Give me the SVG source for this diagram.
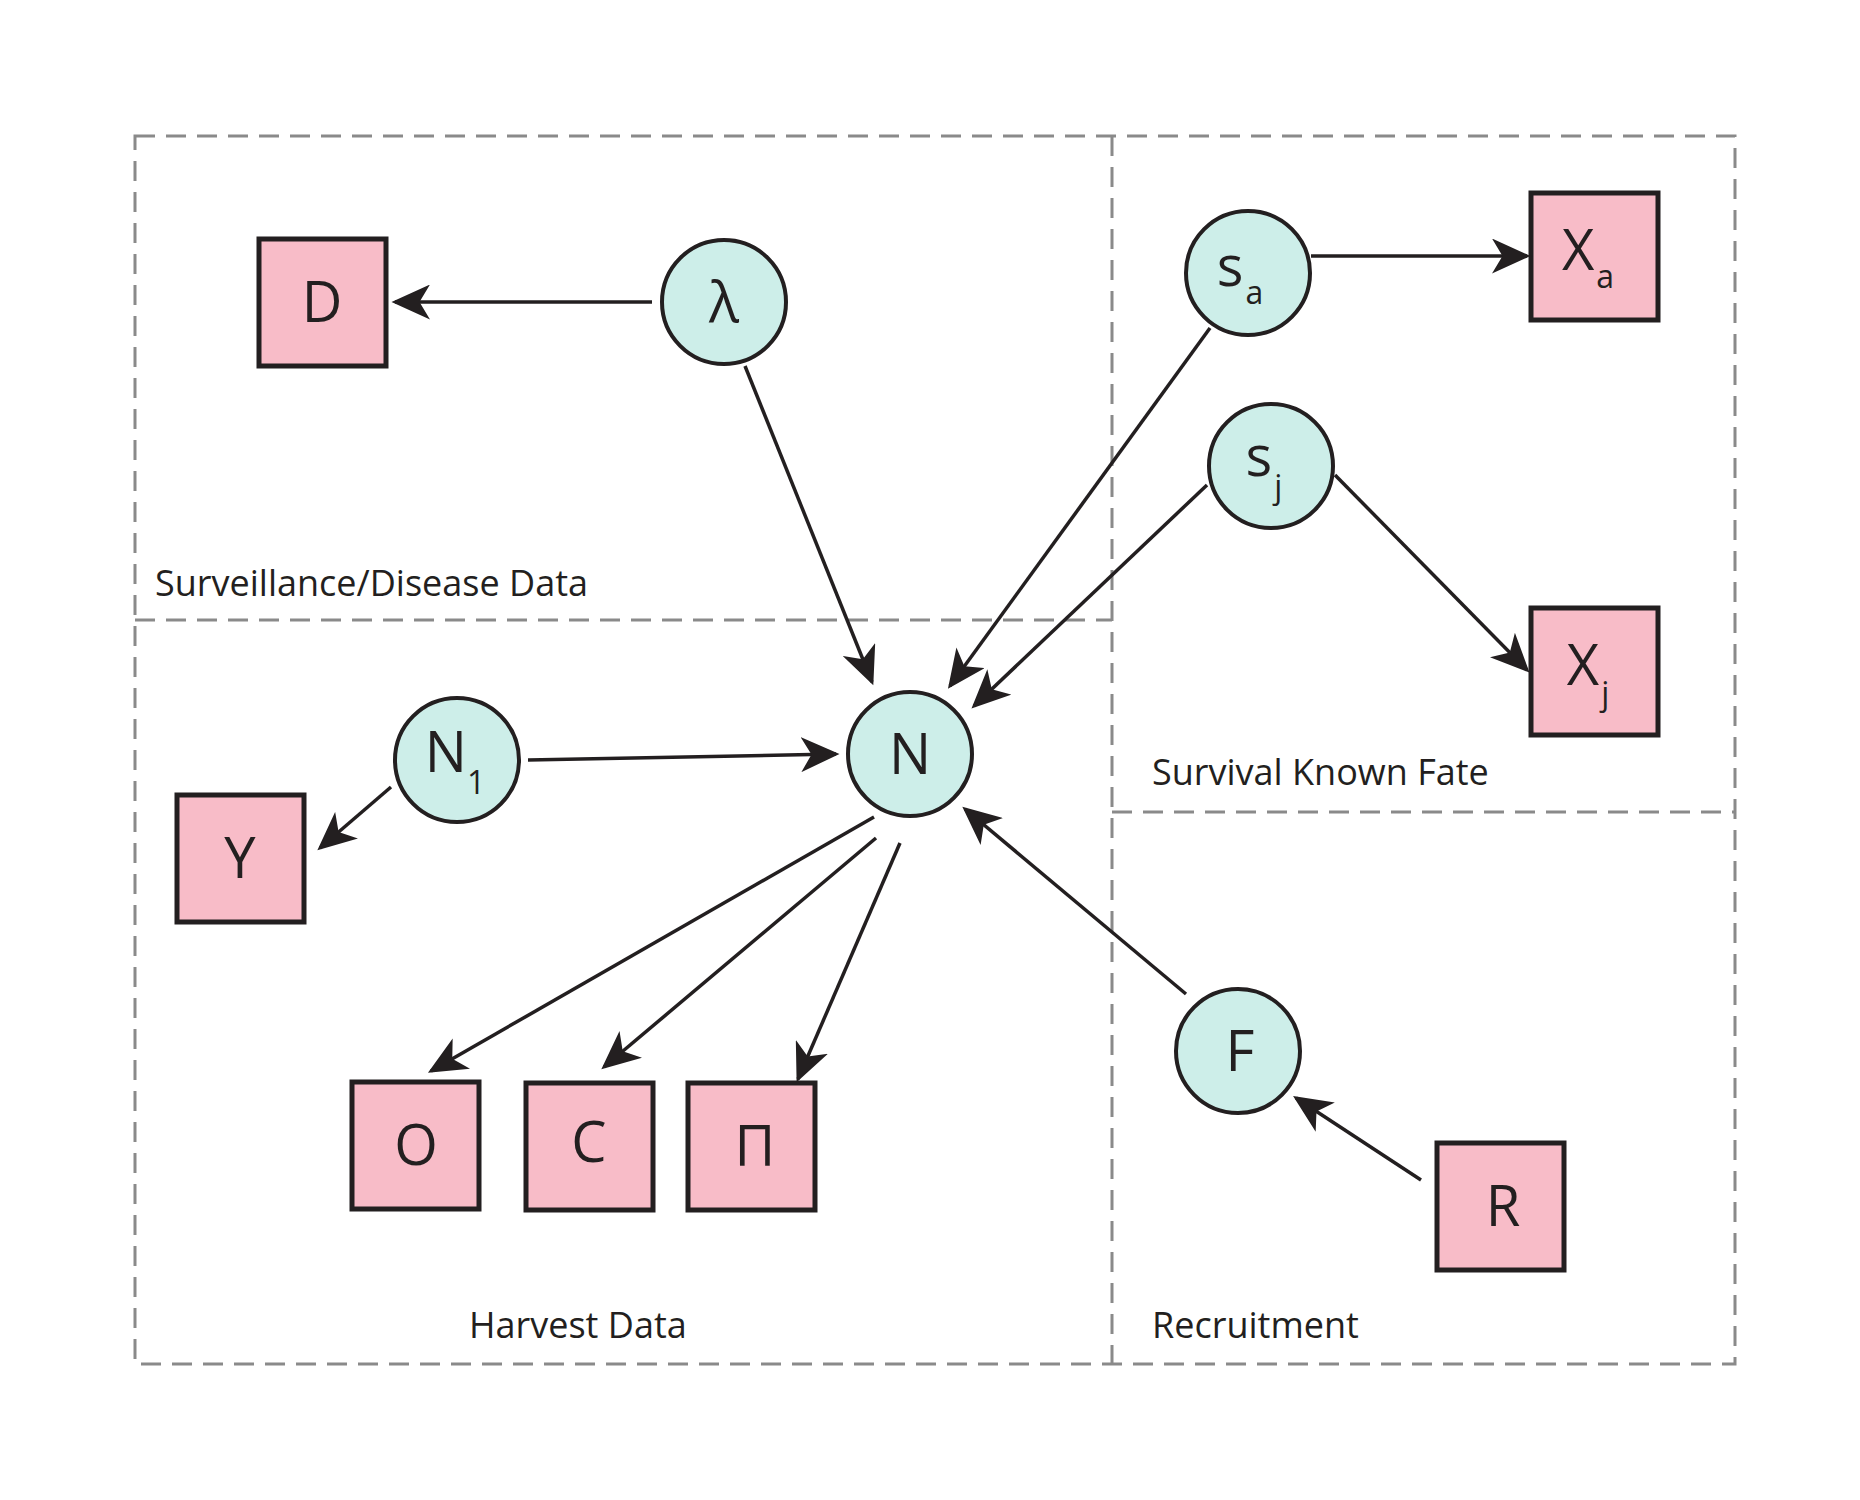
<svg xmlns="http://www.w3.org/2000/svg" width="1860" height="1500" viewBox="0 0 1860 1500">
<style>
.c{fill:#cdeee9;stroke:#231f20;stroke-width:4}
.s{fill:#f8bcc8;stroke:#231f20;stroke-width:5}
.t{font-family:"Open Sans","Liberation Sans",sans-serif;font-size:56px;fill:#231f20;text-anchor:middle}
.sub{font-size:32px}
.lab{font-family:"Open Sans","Liberation Sans",sans-serif;font-size:36px;fill:#231f20}
.d{fill:none;stroke:#8a8a8a;stroke-width:3;stroke-dasharray:20 11}
.a{stroke:#231f20;stroke-width:3.5;fill:none;marker-end:url(#ah)}
</style>
<defs><marker id="ah" markerWidth="12" markerHeight="10" refX="10" refY="5" orient="auto" markerUnits="strokeWidth"><path d="M0,0 L11,5 L0,10 L3,5 Z" fill="#231f20"/></marker></defs>
<rect width="1860" height="1500" fill="#fff"/>
<g id="regions">
<rect class="d" x="135" y="136" width="1600" height="1228"/>
<line class="d" x1="1112" y1="136" x2="1112" y2="1364"/>
<line class="d" x1="135" y1="620" x2="1112" y2="620"/>
<line class="d" x1="1112" y1="812" x2="1735" y2="812"/>
<text class="lab" x="155" y="596">Surveillance/Disease Data</text>
<text class="lab" x="1152" y="785">Survival Known Fate</text>
<text class="lab" x="469" y="1338">Harvest Data</text>
<text class="lab" x="1152" y="1338">Recruitment</text>
</g>
<g id="connectors">
<line class="a" x1="652" y1="302" x2="395" y2="302"/>
<line class="a" x1="745" y1="366" x2="872" y2="682"/>
<line class="a" x1="1311" y1="256" x2="1527" y2="256"/>
<line class="a" x1="1210" y1="328" x2="950" y2="686"/>
<line class="a" x1="1207" y1="485" x2="974" y2="706"/>
<line class="a" x1="1335" y1="475" x2="1527" y2="670"/>
<line class="a" x1="528" y1="760" x2="836" y2="754"/>
<line class="a" x1="391" y1="787" x2="320" y2="848"/>
<line class="a" x1="874" y1="817" x2="431" y2="1071"/>
<line class="a" x1="876" y1="838" x2="604" y2="1067"/>
<line class="a" x1="900" y1="843" x2="798" y2="1079"/>
<line class="a" x1="1186" y1="994" x2="965" y2="809"/>
<line class="a" x1="1421" y1="1180" x2="1296" y2="1098"/>
</g>
<g id="lambda"><circle class="c" cx="724" cy="302" r="62"/><text class="t" x="724" y="322">λ</text></g>
<g id="sa"><circle class="c" cx="1248" cy="273" r="62"/><text class="t" x="1240" y="286">s<tspan class="sub" dx="2" dy="18">a</tspan></text></g>
<g id="sj"><circle class="c" cx="1271" cy="466" r="62"/><text class="t" x="1264" y="476">s<tspan class="sub" dx="2" dy="22">j</tspan></text></g>
<g id="N1"><circle class="c" cx="457" cy="760" r="62"/><text class="t" x="455" y="772">N<tspan class="sub" dx="0" dy="22">1</tspan></text></g>
<g id="N"><circle class="c" cx="910" cy="754" r="62"/><text class="t" x="910" y="774">N</text></g>
<g id="F"><circle class="c" cx="1238" cy="1051" r="62"/><text class="t" x="1240" y="1071">F</text></g>
<g id="D"><rect class="s" x="259" y="239" width="127" height="127"/><text class="t" x="322" y="322">D</text></g>
<g id="Xa"><rect class="s" x="1531" y="193" width="127" height="127"/><text class="t" x="1588" y="270">X<tspan class="sub" dx="2" dy="18">a</tspan></text></g>
<g id="Xj"><rect class="s" x="1531" y="608" width="127" height="127"/><text class="t" x="1588" y="685">X<tspan class="sub" dx="2" dy="20">j</tspan></text></g>
<g id="Y"><rect class="s" x="177" y="795" width="127" height="127"/><text class="t" x="240" y="878">Y</text></g>
<g id="O"><rect class="s" x="352" y="1082" width="127" height="127"/><text class="t" x="416" y="1165">O</text></g>
<g id="C"><rect class="s" x="526" y="1083" width="127" height="127"/><text class="t" x="589" y="1162">C</text></g>
<g id="Pi"><rect class="s" x="688" y="1083" width="127" height="127"/><text class="t" x="755" y="1166">Π</text></g>
<g id="R"><rect class="s" x="1437" y="1143" width="127" height="127"/><text class="t" x="1503" y="1226">R</text></g>
</svg>
